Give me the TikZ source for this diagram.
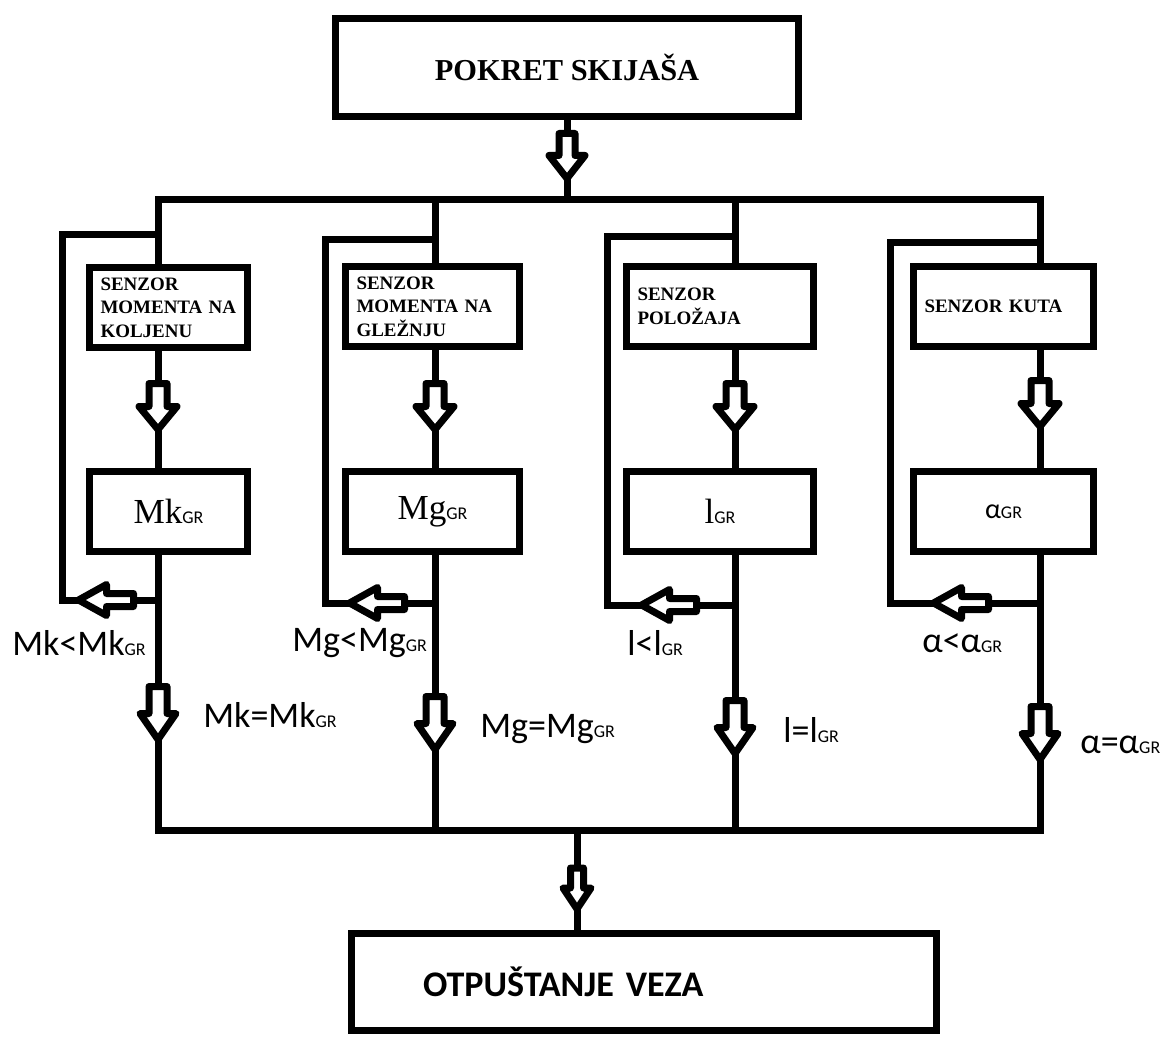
\documentclass[tikz,border=0pt]{standalone}
\usepackage{fontspec}
\setmainfont{Liberation Serif}
\newfontfamily\calfont{Carlito}
\usepackage{tikz}

\newcommand{\gr}{{\calfont\fontsize{10.2}{12}\selectfont GR}}

\tikzset{
  wire/.style={line width=1.4mm, line cap=rect},
  blok/.style={draw, line width=1.4mm, inner sep=0pt},
  senzor/.style={blok, align=left, inner xsep=2.2mm, minimum height=16mm, font=\fontsize{10.8}{13.4}\selectfont\bfseries},
  granica/.style={blok, minimum height=16mm, font=\fontsize{20}{24}\selectfont},
  oznaka/.style={anchor=base west, inner sep=0pt, font=\calfont\fontsize{20.5}{24}\selectfont},
  pics/dolje/.style n args={4}{code={
    \draw[line width=1.4mm, line join=round, fill=white] (-#1,0) -- (#1,0) -- (#1,#3) -- (#2,#3) -- (0,#3+#4) -- (-#2,#3) -- (-#1,#3) -- cycle;
  }},
  pics/lijevo/.style n args={4}{code={
    \draw[line width=1.4mm, line join=round, fill=white] (0,-#1) -- (0,#1) -- (-#3,#1) -- (-#3,#2) -- (-#3-#4,0) -- (-#3,-#2) -- (-#3,-#1) -- cycle;
  }},
}

\begin{document}
\begin{tikzpicture}[x=0.2mm,y=-0.2mm]
  \useasboundingbox (0,0) rectangle (1162,1038);

  \node[blok, minimum width=92.6mm, minimum height=19.6mm, font=\fontsize{17.3}{20}\selectfont\bfseries] (pokret) at (567,67.5) {POKRET SKIJAŠA};
  \node[blok, minimum height=19.4mm, text width=88.4mm, inner xsep=14.3mm, align=left, font=\calfont\fontsize{20.5}{24}\selectfont\bfseries] (otpustanje) at (644,982) {OTPUŠTANJE VEZA};

  \node[senzor, text width=27.2mm] (s1) at (168.5,307.5) {SENZOR\\ \mbox{MOMENTA NA}\\ KOLJENU};
  \node[senzor, text width=30.4mm] (s2) at (432.5,306.5) {SENZOR\\ \mbox{MOMENTA NA}\\ GLEŽNJU};
  \node[senzor, text width=33mm] (s3) at (720,306.5) {SENZOR\\ POLOŽAJA};
  \node[senzor, text width=31.6mm] (s4) at (1003.5,306.5) {\mbox{SENZOR KUTA}};

  \node[granica, minimum width=31.6mm] (r1) at (168.5,511.5) {Mk\gr};
  \node[granica, minimum width=34.8mm] (r2) at (432.5,511.5) {Mg\gr};
  \node[granica, minimum width=37.4mm] (r3) at (720,511.5) {l\gr};
  \node[granica, minimum width=36mm] (r4) at (1003.5,511.5) {{\calfont\fontsize{16}{20}\selectfont α}\gr};

  \coordinate (b1) at (158,200);
  \coordinate (b2) at (435,200);
  \coordinate (b3) at (735,200);
  \coordinate (b4) at (1040,200);
  \coordinate (d1) at (158,830);
  \coordinate (d2) at (435,830);
  \coordinate (d3) at (735,830);
  \coordinate (d4) at (1040,830);
  \coordinate (k1) at (62,235);
  \coordinate (k2) at (325,240);
  \coordinate (k3) at (607,237);
  \coordinate (k4) at (890,243);
  \coordinate (f1) at (158,600);
  \coordinate (f2) at (435,603);
  \coordinate (f3) at (735,605);
  \coordinate (f4) at (1040,603);
  \coordinate (m) at (577,830);

  \draw[wire] (pokret) -- (pokret |- b1);
  \draw[wire] (s1.north -| b1) |- (b4) -- (s4.north -| b4);
  \draw[wire] (b2) -- (s2.north -| b2);
  \draw[wire] (b3) -- (s3.north -| b3);

  \draw[wire] (s1.south -| b1) -- (r1.north -| b1);
  \draw[wire] (s2.south -| b2) -- (r2.north -| b2);
  \draw[wire] (s3.south -| b3) -- (r3.north -| b3);
  \draw[wire] (s4.south -| b4) -- (r4.north -| b4);

  \draw[wire] (r1.south -| b1) |- (d4) -- (r4.south -| d4);
  \draw[wire] (r2.south -| b2) -- (d2);
  \draw[wire] (r3.south -| b3) -- (d3);

  \draw[wire] (k1 -| b1) -- (k1) |- (f1);
  \draw[wire] (k2 -| b2) -- (k2) |- (f2);
  \draw[wire] (k3 -| b3) -- (k3) |- (f3);
  \draw[wire] (k4 -| b4) -- (k4) |- (f4);

  \draw[wire] (m) -- (m |- otpustanje.north);

  \pic at (567,133.5) {dolje={8}{18}{22}{23}};
  \pic at (158,383.5) {dolje={9}{19}{23}{23}};
  \pic at (435,383.5) {dolje={9}{19}{23}{23}};
  \pic at (735,383.5) {dolje={9}{19}{23}{23}};
  \pic at (1040,380.5) {dolje={9}{19}{23}{23}};
  \pic at (158,686.5) {dolje={9}{18}{27}{26}};
  \pic at (435,696.5) {dolje={9}{18}{27}{26}};
  \pic at (735,700.5) {dolje={9}{18}{27}{26}};
  \pic at (1040,706.5) {dolje={9}{18}{27}{26}};
  \pic at (577,868) {dolje={6.5}{14}{20}{21}};
  \pic at (133.5,600) {lijevo={6.5}{15.5}{27}{28}};
  \pic at (404.5,603) {lijevo={6.5}{15.5}{27}{28}};
  \pic at (696.5,605) {lijevo={6.5}{15.5}{27}{28}};
  \pic at (988.5,603) {lijevo={6.5}{15.5}{27}{28}};

  \node[oznaka] (manje1) at (12,655) {Mk<Mk\gr};
  \node[oznaka] (manje2) at (292,651) {Mg<Mg\gr};
  \node[oznaka] (manje3) at (627,655) {l<l\gr};
  \node[oznaka] (manje4) at (922,652) {α<α\gr};

  \node[oznaka] (jednako1) at (203,727) {Mk=Mk\gr};
  \node[oznaka] (jednako2) at (480,737) {Mg=Mg\gr};
  \node[oznaka] (jednako3) at (783,742) {l=l\gr};
  \node[oznaka] (jednako4) at (1080,753) {α=α\gr};
\end{tikzpicture}
\end{document}
